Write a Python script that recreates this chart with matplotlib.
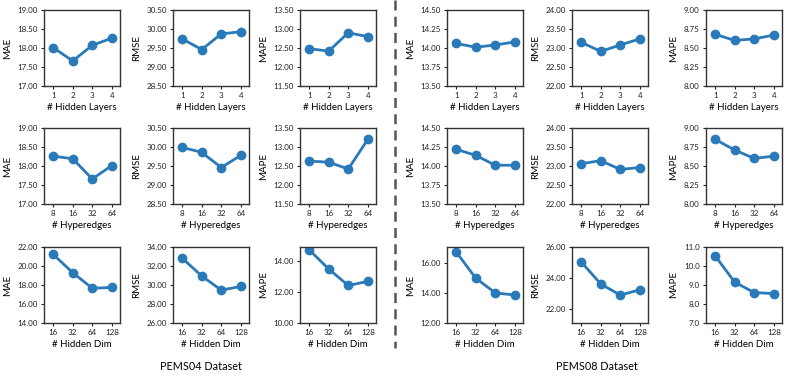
import numpy as np
import matplotlib
matplotlib.use('Agg')
import matplotlib.pyplot as plt
from matplotlib.ticker import FormatStrFormatter, MultipleLocator

plt.rcParams['font.family'] = ['Lato', 'DejaVu Sans']

# x categories for each row of panels
layers = ['1', '2', '3', '4']
hyperedges = ['8', '16', '32', '64']
hidden_dim = ['16', '32', '64', '128']
row_cats = [layers, hyperedges, hidden_dim]
row_xlabels = ['# Hidden Layers', '# Hyperedges', '# Hidden Dim']
metrics = ['MAE', 'RMSE', 'MAPE']

# PEMS04 results
p04_layers_mae = [18.01, 17.66, 18.07, 18.26]
p04_layers_rmse = [29.74, 29.46, 29.87, 29.93]
p04_layers_mape = [12.48, 12.42, 12.90, 12.80]
p04_edges_mae = [18.26, 18.19, 17.66, 18.01]
p04_edges_rmse = [29.99, 29.86, 29.46, 29.78]
p04_edges_mape = [12.63, 12.60, 12.42, 13.20]
p04_dim_mae = [21.22, 19.30, 17.66, 17.74]
p04_dim_rmse = [32.82, 30.95, 29.46, 29.85]
p04_dim_mape = [14.72, 13.48, 12.42, 12.68]

# PEMS08 results
p08_layers_mae = [14.06, 14.01, 14.04, 14.08]
p08_layers_rmse = [23.15, 22.91, 23.08, 23.24]
p08_layers_mape = [8.68, 8.60, 8.62, 8.67]
p08_edges_mae = [14.22, 14.14, 14.01, 14.01]
p08_edges_rmse = [23.06, 23.14, 22.91, 22.96]
p08_edges_mape = [8.85, 8.71, 8.60, 8.63]
p08_dim_mae = [16.72, 14.98, 14.00, 13.86]
p08_dim_rmse = [25.04, 23.62, 22.90, 23.24]
p08_dim_mape = [10.53, 9.15, 8.60, 8.55]

p04 = [[p04_layers_mae, p04_layers_rmse, p04_layers_mape],
       [p04_edges_mae, p04_edges_rmse, p04_edges_mape],
       [p04_dim_mae, p04_dim_rmse, p04_dim_mape]]
p08 = [[p08_layers_mae, p08_layers_rmse, p08_layers_mape],
       [p08_edges_mae, p08_edges_rmse, p08_edges_mape],
       [p08_dim_mae, p08_dim_rmse, p08_dim_mape]]

# axis ranges: (ymin, ymax, tick step, format)
p04_axes = [[(17, 19, 0.5, '%.2f'), (28.5, 30.5, 0.5, '%.2f'), (11.5, 13.5, 0.5, '%.2f')],
            [(17, 19, 0.5, '%.2f'), (28.5, 30.5, 0.5, '%.2f'), (11.5, 13.5, 0.5, '%.2f')],
            [(14, 22, 2, '%.2f'), (26, 34, 2, '%.2f'), (10, 14.9, 2, '%.2f')]]
p08_axes = [[(13.5, 14.5, 0.25, '%.2f'), (22, 24, 0.5, '%.2f'), (8, 9, 0.25, '%.2f')],
            [(13.5, 14.5, 0.25, '%.2f'), (22, 24, 0.5, '%.2f'), (8, 9, 0.25, '%.2f')],
            [(12, 17.05, 2, '%.2f'), (21.1, 26, 2, '%.2f'), (7, 11, 1, '%.1f')]]

W, H = 789, 380
fig = plt.figure(figsize=(W/100, H/100), dpi=100)

lefts = [[44, 173, 300], [447, 572, 706]]
tops = [10, 128, 247]
size = 76
color = '#2a7ab9'

for d, (data, lims) in enumerate([(p04, p04_axes), (p08, p08_axes)]):
    for r in range(3):
        for c in range(3):
            x0 = lefts[d][c]
            y0 = tops[r]
            ax = fig.add_axes([x0/W, 1 - (y0+size)/H, size/W, size/H])
            xs = np.arange(len(row_cats[r]))
            ax.plot(xs, data[r][c], '-o', color=color, lw=2, ms=6)
            ymin, ymax, step, fmt = lims[r][c]
            ax.set_ylim(ymin, ymax)
            ax.yaxis.set_major_locator(MultipleLocator(step))
            ax.yaxis.set_major_formatter(FormatStrFormatter(fmt))
            ax.set_xlim(-0.47, 3.42)
            ax.set_xticks(xs)
            ax.set_xticklabels(row_cats[r])
            ax.tick_params(labelsize=5.8, length=2.5, width=0.8, pad=2,
                           colors='#222222')
            for s in ax.spines.values():
                s.set_linewidth(1.0)
                s.set_color('#333333')
            ax.set_ylabel(metrics[c], fontsize=7, labelpad=4)
            ax.set_xlabel(row_xlabels[r], fontsize=7, labelpad=3)

fig.text(201/W, 1 - 367/H, 'PEMS04 Dataset', ha='center', va='center', fontsize=7.8)
fig.text(597/W, 1 - 367/H, 'PEMS08 Dataset', ha='center', va='center', fontsize=7.8)

# dashed separator between the two datasets
fig.add_artist(plt.Line2D([395/W, 395/W], [1.0, 1 - 348/H], transform=fig.transFigure,
                          color='#555555', lw=1.8, linestyle=(0, (4, 2.5))))

fig.savefig('out.png', dpi=100)
